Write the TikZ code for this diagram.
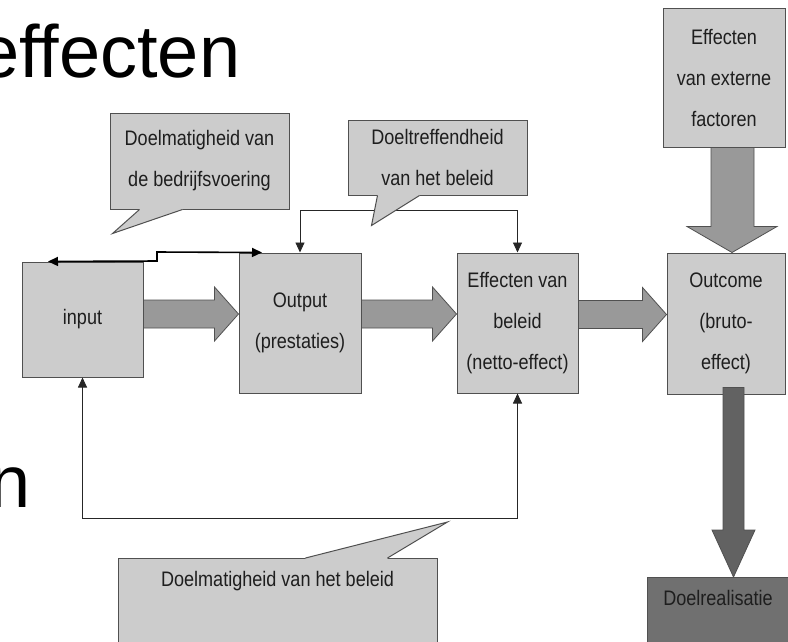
\documentclass[tikz,border=0pt]{standalone}
\usepackage{fontspec}
\setmainfont{Liberation Sans}
\newfontfamily\narrowsans[FakeStretch=0.86]{Liberation Sans}
\usetikzlibrary{arrows.meta,calc}

\definecolor{boxgray}{HTML}{CCCCCC}
\definecolor{arrowgray}{HTML}{999999}
\definecolor{goalgray}{HTML}{707070}
\definecolor{edgegray}{HTML}{505050}
\definecolor{inkgray}{HTML}{1E1E1E}

% fat arrow from one stage box to the next
\newcommand{\hfat}[2]{%
  \draw[fatarrow] let \p1=(#1.east), \p2=(#2.west) in
    (\x1,\y2-5pt) -- (\x2-24pt,\y2-5pt) -- (\x2-24pt,\y2-18pt) -- (\x2,\y2+9pt)
    -- (\x2-24pt,\y2+36pt) -- (\x2-24pt,\y2+23pt) -- (\x1,\y2+23pt) -- cycle;}

% tail of a speech bubble: anchor, base left, tip, base right, inward shift
\newcommand{\calltail}[5]{%
  \fill[boxgray] ($(#1)+(#2,#5)$) -- ($(#1)+(#2,0)$) -- ($(#1)+(#3)$) -- ($(#1)+(#4,0)$) -- ($(#1)+(#4,#5)$) -- cycle;
  \draw[edgegray, line width=1pt] ($(#1)+(#2,0)$) -- ($(#1)+(#3)$) -- ($(#1)+(#4,0)$);}

\begin{document}
\begin{tikzpicture}[
    x=1pt, y=1pt,
    stage/.style={draw=edgegray, line width=1pt, fill=boxgray, text=inkgray, inner sep=0pt, align=center, font=\narrowsans\fontsize{21}{41}\selectfont},
    bubble/.style={stage},
    fatarrow/.style={draw=edgegray, line width=0.8pt, fill=arrowgray},
    link/.style={draw=black!85, line width=0.9pt, {Triangle[length=10pt,width=9pt]}-{Triangle[length=10pt,width=9pt]}},
    slidetext/.style={anchor=base west, inner sep=0pt, font=\fontsize{74}{80}\selectfont}
]
    \useasboundingbox (0,0) rectangle (788,-641);

    % slide text behind the diagram
    \node[slidetext] (title) at (-22,-77) {effecten};
    \node[slidetext] (titleN) at (-11,-507) {n};

    % chain of stages
    \node[stage, minimum width=121pt, minimum height=115pt] (input) at (82.5,-319.5) {input};
    \node[stage, minimum width=122pt, minimum height=140pt] (output) at (300,-323) {Output\\(prestaties)};
    \node[stage, minimum width=121pt, minimum height=140pt] (effect) at (517.5,-323) {Effecten van\\beleid\\(netto-effect)};
    \node[stage, minimum width=118pt, minimum height=141pt] (outcome) at (726,-323.5) {Outcome\\(bruto-\\effect)};
    \node[stage, minimum width=122pt, minimum height=139pt] (extern) at (724,-77.5) {Effecten\\van externe\\factoren};
    \node[stage, fill=goalgray, anchor=north, minimum width=142pt, inner ysep=13pt, text depth=70pt] (goal) at (718,-577) {Doelrealisatie};

    % thin feedback lines
    \draw[link, draw=black, line width=1.6pt] ([xshift=-34.5pt]input.north) -- (157,-261) -- (157,-252) -- ([xshift=-38pt]output.north);
    \draw[link] (output.north) -- ++(0,42) -| (effect.north);
    \draw[link] (input.south) -- ++(0,-141) -| (effect.south);

    % speech bubbles
    \node[bubble, minimum width=179pt, minimum height=96pt] (bedrijf) at (199.5,-161) {Doelmatigheid van\\de bedrijfsvoering};
    \node[bubble, minimum width=179pt, minimum height=75pt] (treffend) at (437.5,-157.5) {Doeltreffendheid\\van het beleid};
    \node[bubble, anchor=north, minimum width=319pt, inner ysep=13pt, text depth=70pt] (beleid) at (277.5,-558) {Doelmatigheid van het beleid};
    \calltail{bedrijf.south west}{30}{3,-24}{73}{3}
    \calltail{treffend.south west}{30}{24,-30}{72}{3}
    \calltail{beleid.north west}{188}{330,36}{270}{-3}

    % fat arrows
    \hfat{input}{output}
    \hfat{output}{effect}
    \hfat{effect}{outcome}
    \draw[fatarrow] let \p1=(extern.south), \p2=(outcome.north) in
        (\x2-15pt,\y1) -- (\x2-15pt,\y2+26pt) -- (\x2-39pt,\y2+26pt) -- (\x2+6pt,\y2)
        -- (\x2+51pt,\y2+26pt) -- (\x2+28pt,\y2+26pt) -- (\x2+28pt,\y1) -- cycle;
    \draw[fatarrow, fill=goalgray!110] let \p1=(outcome.south), \p2=(goal.north) in
        (\x1-3pt,\y1+7pt) -- (\x1-3pt,\y2+47pt) -- (\x1-14pt,\y2+47pt) -- (\x1+7.5pt,\y2)
        -- (\x1+29pt,\y2+47pt) -- (\x1+18pt,\y2+47pt) -- (\x1+18pt,\y1+7pt) -- cycle;
\end{tikzpicture}
\end{document}
